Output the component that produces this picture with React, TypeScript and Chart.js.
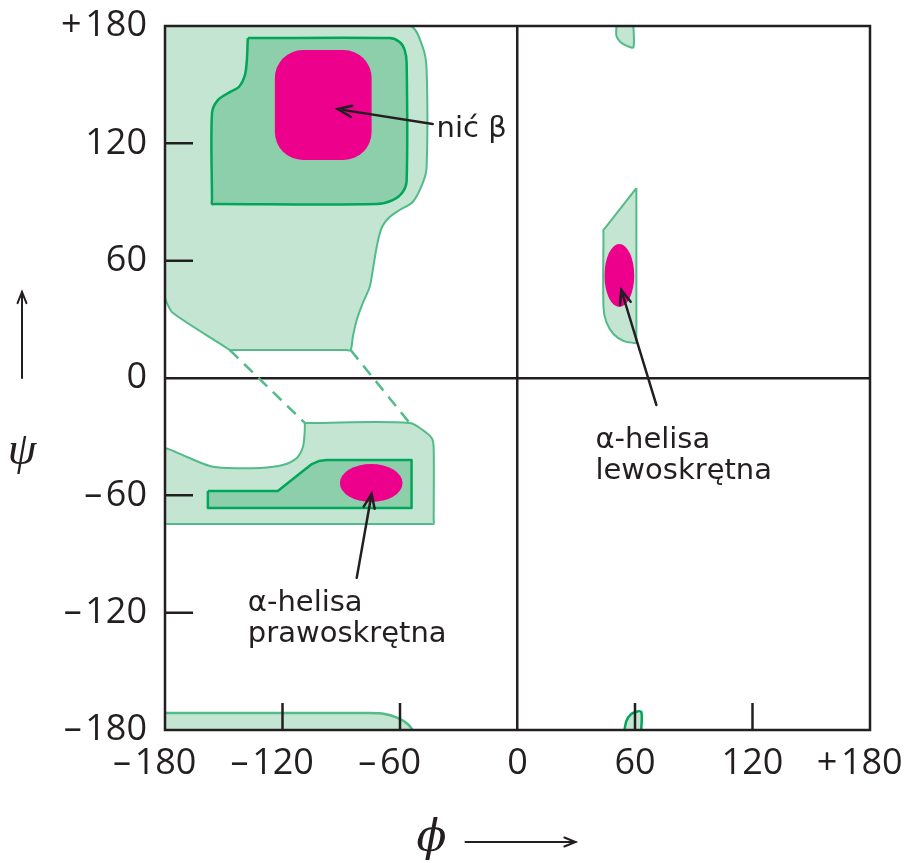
import React, { useEffect, useRef } from "react";
import { Chart, registerables } from "chart.js";
Chart.register(...registerables);

// ---- axis ticks ----
const PHI_TICKS = [-180, -120, -60, 0, 60, 120, 180];
const PHI_LABELS = ["–\u200A180\u2007", "–\u200A120\u2007", "–\u200A60\u2007", "0", "60", "120", "+\u200A180\u2007"];
const PSI_TICKS = [-180, -120, -60, 0, 60, 120, 180];
const PSI_LABELS = ["–\u200A180", "–\u200A120", "–\u200A60", "0", "60", "120", "+\u200A180"];
const INNER_TICKS = [-120, -60, 60, 120];

// ---- regions [phi, psi] ----
const betaAllowed: number[][] = [
  [-180, 180], [-55.1, 180], [-48.4, 169.2], [-46.4, 157.5], [-46.4, 107.9], [-48.4, 99.7],
  [-53.5, 90.0], [-60.2, 85.9], [-65.3, 82.3], [-69.4, 76.7], [-71.9, 67.0], [-73.9, 55.2],
  [-75.5, 46.5], [-79.0, 38.3], [-82.1, 29.7], [-84.1, 21.0], [-85.2, 14.3], [-87.5, 14.3],
  [-144.5, 14.3], [-146.9, 14.3], [-149.0, 15.7], [-175.9, 33.2], [-179, 38.3], [-180, 41],
  [-180, 43],
];
const betaFavoured: number[][] = [
  [-137.7, 173.8], [-135.5, 173.8], [-65.3, 173.8], [-60.2, 171.8], [-57.6, 167.7], [-56.6, 161.0],
  [-56.6, 101.2], [-58.6, 95.1], [-63.7, 91.0], [-71.9, 89.0], [-154.0, 89.0], [-156.0, 89.0],
  [-156.0, 91.0], [-156.0, 135.5], [-153.0, 142.1], [-146.9, 146.2], [-142.3, 148.8], [-139.2, 154.9],
  [-138.2, 162.6], [-137.8, 171.6],
];
// [phiMin, psiMin, phiMax, psiMax]
const betaCore = [-123.9, 111.5, -74.5, 167.7];

const alphaRAllowed: number[][] = [
  [-108.6, -23.0], [-106.5, -23.0], [-55.1, -23.0], [-46.4, -28.1], [-43.6, -31.0], [-42.8, -35.3],
  [-42.8, -72.6], [-42.8, -74.6], [-44.8, -74.6], [-178, -74.6], [-180, -74.6], [-180, -72.6],
  [-180, -37.8], [-180, -35.8], [-168.8, -40.4],
  [-157.1, -45.0], [-148.4, -46.0], [-131.6, -46.0], [-119.8, -44.5], [-112.7, -40.9], [-109.6, -35.3],
  [-108.7, -28.1], [-108.6, -25.0],
];
const alphaRFavoured: number[][] = [
  [-158.1, -57.8], [-122.4, -57.8], [-107.6, -46.0], [-105.0, -44.0], [-101.5, -42.5], [-97.4, -41.9],
  [-54.1, -41.9], [-54.1, -66.5], [-158.1, -66.5],
];
// [phi, psi, rPhi, rPsi]
const alphaRCore = [-74.7, -53.7, 16.0, 9.7];

const alphaLAllowed: number[][] = [
  [60.7, 97.1], [44.9, 76.9], [43.9, 75.7], [43.9, 73.5], [43.9, 36.3], [45.4, 28.6], [49.0, 22.5],
  [54.1, 19.0], [59.5, 17.9], [60.7, 17.9], [60.7, 19.5],
];
const alphaLCore = [52.0, 52.4, 7.6, 16.1];

const topSliver: number[][] = [
  [50.5, 180], [50.5, 175], [52.5, 171.8], [56.1, 169.7], [59.2, 169.2], [59.2, 180],
];
const bottomStrip: number[][] = [
  [-180, -171.3], [-75.5, -171.3], [-67.8, -171.8], [-61.2, -173.8], [-56.1, -176.9], [-53.5, -180],
];
const bottomStripBase: number[][] = [[-180, -180]];
const bottomSliver: number[][] = [
  [54.6, -180], [55.6, -175.4], [57.6, -172.3], [60.2, -170.8], [63.2, -170.8], [63.2, -180],
];
const bridgeLeft: number[][] = [[-146.9, 14.3], [-108.6, -23.0]];
const bridgeRight: number[][] = [[-85.2, 14.3], [-55.1, -23.0]];

// ---- annotations ----
const betaLabel = ["nić β"];
const betaLabelAt = [-41.3, 123.2];
const betaArrow = [[-43.3, 129.9], [-91.8, 137.5]];
const alphaLLabel = ["α-helisa", "lewoskrętna"];
const alphaLLabelAt = [39.8, -35.8];
const alphaLArrow = [[70.9, -13.8], [53.0, 45.0]];
const alphaRLabel = ["α-helisa", "prawoskrętna"];
const alphaRLabelAt = [-137.7, -119.1];
const alphaRArrow = [[-82.1, -102.2], [-74.5, -59.3]];

// ---- styles ----
const LIGHT_FILL = "#c5e5d3";
const LIGHT_LINE = "#52bb88";
const DARK_FILL = "#8ecfab";
const DARK_LINE = "#00a65a";
const CORE = "#ec008c";
const INK = "#231f20";

const toXY = (pts: number[][], close: boolean) => {
  const d = pts.map(([x, y]) => ({ x, y }));
  if (close) d.push({ x: pts[0][0], y: pts[0][1] });
  return d;
};

const outline = (pts: number[][], color: string, width: number, close = true, tension = 0.3, dash: number[] = []) => ({
  data: toXY(pts, close),
  showLine: true,
  borderColor: color,
  borderWidth: width,
  borderDash: dash,
  pointRadius: 0,
  pointHoverRadius: 0,
  tension,
  fill: false,
  borderJoinStyle: "round" as const,
});

// dataset index -> fill colour + extra closing points
const FILLS: { index: number; color: string; extra?: number[][] }[] = [
  { index: 0, color: LIGHT_FILL },
  { index: 1, color: LIGHT_FILL },
  { index: 2, color: LIGHT_FILL },
  { index: 3, color: LIGHT_FILL },
  { index: 4, color: LIGHT_FILL, extra: bottomStripBase },
  { index: 5, color: LIGHT_FILL },
  { index: 6, color: DARK_FILL },
  { index: 7, color: DARK_FILL },
];

function drawArrow(ctx: CanvasRenderingContext2D, x1: number, y1: number, x2: number, y2: number, head: number) {
  const a = Math.atan2(y2 - y1, x2 - x1);
  ctx.beginPath();
  ctx.moveTo(x1, y1);
  ctx.lineTo(x2, y2);
  ctx.stroke();
  ctx.beginPath();
  ctx.moveTo(x2 - head * Math.cos(a - 0.38), y2 - head * Math.sin(a - 0.38));
  ctx.lineTo(x2, y2);
  ctx.lineTo(x2 - head * Math.cos(a + 0.38), y2 - head * Math.sin(a + 0.38));
  ctx.stroke();
}

const regionPlugin = {
  id: "regions",
  beforeDatasetsDraw(chart: any) {
    const { ctx, chartArea: ca } = chart;
    const sx = chart.scales.x, sy = chart.scales.y;
    const P = (p: number[]) => [sx.getPixelForValue(p[0]), sy.getPixelForValue(p[1])];
    const ellipse = (e: number[]) => {
      const [cx, cy] = P(e);
      const rx = Math.abs(sx.getPixelForValue(e[0] + e[2]) - cx);
      const ry = Math.abs(sy.getPixelForValue(e[1] + e[3]) - cy);
      ctx.beginPath();
      ctx.ellipse(cx, cy, rx, ry, 0, 0, Math.PI * 2);
      ctx.fillStyle = CORE;
      ctx.fill();
    };
    ctx.save();
    ctx.beginPath();
    ctx.rect(ca.left, ca.top, ca.right - ca.left, ca.bottom - ca.top);
    ctx.clip();
    FILLS.forEach(({ index, color, extra }) => {
      const line = chart.getDatasetMeta(index).dataset;
      if (!line) return;
      ctx.beginPath();
      line.path(ctx);
      (extra || []).forEach((p) => {
        const [x, y] = P(p);
        ctx.lineTo(x, y);
      });
      ctx.closePath();
      ctx.fillStyle = color;
      ctx.fill();
    });
    const [x0, y0] = P([betaCore[0], betaCore[3]]);
    const [x1, y1] = P([betaCore[2], betaCore[1]]);
    ctx.beginPath();
    (ctx as any).roundRect(x0, y0, x1 - x0, y1 - y0, 28);
    ctx.fillStyle = CORE;
    ctx.fill();
    ellipse(alphaRCore);
    ellipse(alphaLCore);
    ctx.restore();
  },
  afterDatasetsDraw(chart: any) {
    const { ctx, chartArea: ca } = chart;
    const sx = chart.scales.x, sy = chart.scales.y;
    const P = (p: number[]) => [sx.getPixelForValue(p[0]), sy.getPixelForValue(p[1])];
    ctx.save();
    ctx.strokeStyle = INK;
    ctx.lineWidth = 2.5;
    ctx.strokeRect(ca.left, ca.top, ca.right - ca.left, ca.bottom - ca.top);
    // inner ticks
    ctx.beginPath();
    INNER_TICKS.forEach((v) => {
      const x = sx.getPixelForValue(v);
      ctx.moveTo(x, ca.bottom);
      ctx.lineTo(x, ca.bottom - 27);
      const y = sy.getPixelForValue(v);
      ctx.moveTo(ca.left, y);
      ctx.lineTo(ca.left + 28, y);
    });
    ctx.stroke();
    // annotation arrows
    ctx.lineWidth = 2.5;
    ctx.lineCap = "round";
    [betaArrow, alphaLArrow, alphaRArrow].forEach(([a, b]) => {
      const [ax, ay] = P(a);
      const [bx, by] = P(b);
      drawArrow(ctx, ax, ay, bx, by, 15);
    });
    // annotation text
    ctx.fillStyle = INK;
    ctx.font = "29px 'DejaVu Sans', sans-serif";
    ctx.textAlign = "left";
    ctx.textBaseline = "alphabetic";
    const text = (lines: string[], at: number[]) => {
      const [x, y] = P(at);
      lines.forEach((l, i) => ctx.fillText(l, x, y + i * 31));
    };
    text(betaLabel, betaLabelAt);
    text(alphaLLabel, alphaLLabelAt);
    text(alphaRLabel, alphaRLabelAt);
    // axis titles
    ctx.textAlign = "center";
    ctx.textBaseline = "middle";
    const psiX = ca.left - 143;
    const zeroY = sy.getPixelForValue(0);
    ctx.font = "italic 46px 'Liberation Serif', 'DejaVu Serif', serif";
    ctx.fillText("ψ", psiX, zeroY + 74);
    ctx.lineWidth = 2;
    drawArrow(ctx, psiX, zeroY, psiX, zeroY - 86, 12);
    const phiY = ca.bottom + 110;
    const zeroX = sx.getPixelForValue(0);
    ctx.font = "italic 44px 'DejaVu Serif', 'Liberation Serif', serif";
    ctx.fillText("ϕ", zeroX - 86, phiY);
    drawArrow(ctx, zeroX - 52, phiY + 2, zeroX + 58, phiY + 2, 12);
    ctx.restore();
  },
};

export default function App() {
  const ref = useRef<HTMLCanvasElement>(null);
  useEffect(() => {
    if (!ref.current) return;
    const tickFont = { family: "'Open Sans', 'Noto Sans', sans-serif", size: 36 };
    const chart = new Chart(ref.current, {
      type: "scatter",
      data: {
        datasets: [
          outline(betaAllowed, LIGHT_LINE, 2),
          outline(alphaRAllowed, LIGHT_LINE, 2),
          outline(alphaLAllowed, LIGHT_LINE, 2),
          outline(topSliver, LIGHT_LINE, 2, false),
          outline(bottomStrip, LIGHT_LINE, 2.5, false),
          outline(bottomSliver, DARK_LINE, 2.5, false),
          outline(betaFavoured, DARK_LINE, 2.5),
          outline(alphaRFavoured, DARK_LINE, 2.5, true, 0),
          outline(bridgeLeft, LIGHT_LINE, 2.5, false, 0, [12, 8]),
          outline(bridgeRight, LIGHT_LINE, 2.5, false, 0, [12, 8]),
        ] as any,
      },
      options: {
        animation: false,
        responsive: false,
        events: [],
        layout: { padding: { top: 26, right: 38, bottom: 0, left: 0 } },
        plugins: { legend: { display: false }, tooltip: { enabled: false } },
        scales: {
          x: {
            type: "linear",
            min: -180,
            max: 180,
            afterBuildTicks: (s: any) => { s.ticks = PHI_TICKS.map((value) => ({ value })); },
            afterFit: (s: any) => { s.height = 133; s.paddingLeft = 0; s.paddingRight = 0; },
            grid: {
              drawTicks: false,
              color: (c: any) => (c.tick && c.tick.value === 0 ? INK : "rgba(0,0,0,0)"),
              lineWidth: 2.5,
            },
            border: { display: false },
            ticks: {
              autoSkip: false,
              maxRotation: 0,
              minRotation: 0,
              padding: 12,
              color: INK,
              font: tickFont,
              callback: (v: any) => PHI_LABELS[PHI_TICKS.indexOf(Number(v))],
            },
          },
          y: {
            type: "linear",
            min: -180,
            max: 180,
            afterBuildTicks: (s: any) => { s.ticks = PSI_TICKS.map((value) => ({ value })); },
            afterFit: (s: any) => { s.width = 165; s.paddingTop = 0; s.paddingBottom = 0; },
            grid: {
              drawTicks: false,
              color: (c: any) => (c.tick && c.tick.value === 0 ? INK : "rgba(0,0,0,0)"),
              lineWidth: 2.5,
            },
            border: { display: false },
            ticks: {
              autoSkip: false,
              padding: 18,
              color: INK,
              font: tickFont,
              callback: (v: any) => PSI_LABELS[PSI_TICKS.indexOf(Number(v))],
            },
          },
        },
      },
      plugins: [regionPlugin],
    } as any);
    return () => chart.destroy();
  }, []);
  return (
    <div style={{ position: "absolute", left: 0, top: 0, width: 908, height: 863, background: "#fff" }}>
      <canvas ref={ref} width={908} height={863} style={{ display: "block" }} />
    </div>
  );
}
